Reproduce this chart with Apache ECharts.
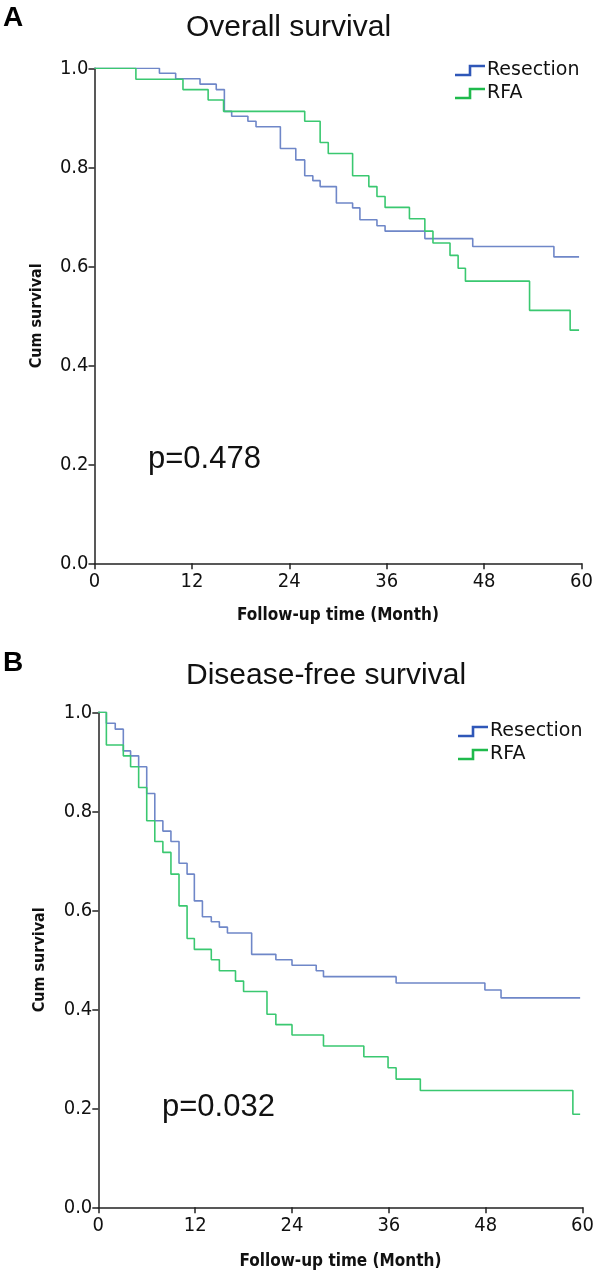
<!DOCTYPE html>
<html>
<head>
<meta charset="utf-8">
<script src="https://cdn.jsdelivr.net/npm/echarts@6/dist/echarts.min.js"></script>
<style>
html,body{margin:0;padding:0;background:#fff;}
#chart{width:597px;height:1273px;}
</style>
</head>
<body>
<div id="chart"></div>
<script>
// ---- Data (Kaplan-Meier step points: [month, cumulative survival]) ----
var xTicks = [0, 12, 24, 36, 48, 60];
var yTicks = ['0.0', '0.2', '0.4', '0.6', '0.8', '1.0'];
var seriesNames = ['Resection', 'RFA'];

// Panel A: Overall survival
var osResectionT = [0, 8.0, 10.0, 13.0, 15.0, 16.0, 16.9, 18.9, 19.9, 22.9, 24.8, 25.9, 26.9, 27.8, 29.8, 31.8, 32.7, 34.8, 35.8, 40.7, 46.6, 56.6, 59.7];
var osResectionS = [1.0, 0.990, 0.979, 0.968, 0.957, 0.913, 0.903, 0.893, 0.882, 0.838, 0.815, 0.783, 0.773, 0.761, 0.728, 0.718, 0.694, 0.682, 0.671, 0.656, 0.640, 0.619, 0.619];
var osRfaT = [0, 5.1, 10.9, 14.0, 15.9, 25.9, 27.8, 28.8, 31.8, 33.8, 34.8, 35.8, 38.8, 40.7, 41.7, 43.8, 44.8, 45.7, 53.6, 58.6, 59.7];
var osRfaS = [1.0, 0.978, 0.957, 0.936, 0.913, 0.893, 0.850, 0.828, 0.783, 0.761, 0.741, 0.719, 0.696, 0.671, 0.647, 0.622, 0.596, 0.570, 0.511, 0.471, 0.471];

// Panel B: Disease-free survival
var dfsResectionT = [0, 1.0, 2.1, 3.1, 4.0, 5.0, 6.0, 7.0, 8.0, 9.0, 10.0, 11.0, 11.9, 12.9, 14.0, 15.0, 16.0, 19.0, 22.0, 24.0, 27.0, 27.9, 36.9, 47.9, 49.9, 59.7];
var dfsResectionS = [1.0, 0.978, 0.966, 0.922, 0.912, 0.890, 0.836, 0.781, 0.760, 0.739, 0.695, 0.673, 0.619, 0.587, 0.577, 0.566, 0.554, 0.511, 0.500, 0.489, 0.478, 0.466, 0.453, 0.439, 0.423, 0.423];
var dfsRfaT = [0, 1.0, 3.1, 4.0, 5.0, 6.0, 7.0, 8.0, 9.0, 10.0, 11.0, 11.9, 14.0, 15.0, 17.0, 18.0, 20.9, 22.0, 24.0, 27.9, 32.9, 35.9, 36.9, 39.9, 58.8, 59.7];
var dfsRfaS = [1.0, 0.934, 0.912, 0.890, 0.848, 0.781, 0.739, 0.717, 0.673, 0.609, 0.543, 0.521, 0.500, 0.478, 0.457, 0.436, 0.390, 0.369, 0.348, 0.326, 0.304, 0.282, 0.259, 0.236, 0.188, 0.188];

var titles = ['Overall survival', 'Disease-free survival'];
var panelLetters = ['A', 'B'];
var pValues = ['p=0.478', 'p=0.032'];
var xName = 'Follow-up time (Month)';
var yName = 'Cum survival';

// ---- Styling ----
var lineBlue = '#6f87c8';
var lineGreen = '#3ac870';
var legBlue = '#2f57b8';
var legGreen = '#1fba4c';
var tickFont = 'DejaVu Sans Condensed';
var axisBlack = '#222';

function pairs(t, s) { return t.map(function (v, i) { return [v, s[i]]; }); }

var grids = [
  { left: 94.5, top: 68.3, width: 487, height: 495 },
  { left: 98.3, top: 712.3, width: 487.7, height: 495 }
];
var xNameGaps = [44, 46];
var yNameGaps = [49.5, 50];

function makeX(i) {
  return {
    type: 'value', gridIndex: i, min: 0, max: 60, interval: 12,
    name: xName, nameLocation: 'middle', nameGap: xNameGaps[i],
    nameTextStyle: { fontFamily: tickFont, fontWeight: 'bold', fontSize: 17, color: '#111' },
    axisLine: { show: true, onZero: false, lineStyle: { color: axisBlack, width: 1.5 } },
    axisTick: { show: true, length: 6, inside: false, lineStyle: { color: axisBlack, width: 1.5 } },
    axisLabel: { fontFamily: tickFont, fontSize: 20, color: '#111', margin: 8 },
    splitLine: { show: false }
  };
}
function makeY(i) {
  return {
    type: 'value', gridIndex: i, min: 0, max: 1, interval: 0.2,
    name: yName, nameLocation: 'middle', nameGap: yNameGaps[i], nameRotate: 90,
    nameTextStyle: { fontFamily: tickFont, fontWeight: 'bold', fontSize: 16, color: '#111' },
    axisLine: { show: true, onZero: false, lineStyle: { color: axisBlack, width: 1.5 } },
    axisTick: { show: true, length: 6, inside: false, lineStyle: { color: axisBlack, width: 1.5 } },
    axisLabel: { fontFamily: tickFont, fontSize: 20, color: '#111', margin: 6,
      formatter: function (v) { return yTicks[Math.round(v * 5)]; } },
    splitLine: { show: false }
  };
}

function makeSeries(name, gi, data, color) {
  return {
    type: 'line', name: name, xAxisIndex: gi, yAxisIndex: gi,
    step: 'end', symbol: 'none', data: data, animation: false,
    lineStyle: { color: color, width: 1.6 }, itemStyle: { color: color },
    z: name === 'RFA' ? 3 : 2
  };
}

function legendGraphic(x, y, color, label) {
  return [
    { type: 'polyline', shape: { points: [[x, y + 5], [x + 15, y + 5], [x + 15, y - 4], [x + 30, y - 4]] },
      style: { stroke: color, lineWidth: 2.6, fill: null } },
    { type: 'text', x: x + 32, y: y, style: { text: label, font: '19px "DejaVu Sans"', fill: '#111',
      verticalAlign: 'middle' } }
  ];
}

var graphics = [
  { type: 'text', left: 3, top: 4, style: { text: panelLetters[0], font: 'bold 28px "Liberation Sans"', fill: '#000' } },
  { type: 'text', left: 3, top: 649, style: { text: panelLetters[1], font: 'bold 28px "Liberation Sans"', fill: '#000' } },
  { type: 'text', x: 186, y: 28, style: { text: titles[0], font: '30px "Liberation Sans"', fill: '#111', align: 'left', verticalAlign: 'middle' } },
  { type: 'text', x: 186, y: 676, style: { text: titles[1], font: '30px "Liberation Sans"', fill: '#111', align: 'left', verticalAlign: 'middle' } },
  { type: 'text', x: 148, y: 459, style: { text: pValues[0], font: '31px "Liberation Sans"', fill: '#111', verticalAlign: 'middle' } },
  { type: 'text', x: 162, y: 1107, style: { text: pValues[1], font: '31px "Liberation Sans"', fill: '#111', verticalAlign: 'middle' } }
].concat(
  legendGraphic(455, 70, legBlue, seriesNames[0]),
  legendGraphic(455, 93, legGreen, seriesNames[1]),
  legendGraphic(458, 731, legBlue, seriesNames[0]),
  legendGraphic(458, 754, legGreen, seriesNames[1])
);

var chart = echarts.init(document.getElementById('chart'), null, { renderer: 'canvas' });
chart.setOption({
  animation: false,
  backgroundColor: '#fff',
  grid: grids,
  xAxis: [makeX(0), makeX(1)],
  yAxis: [makeY(0), makeY(1)],
  series: [
    makeSeries(seriesNames[0], 0, pairs(osResectionT, osResectionS), lineBlue),
    makeSeries(seriesNames[1], 0, pairs(osRfaT, osRfaS), lineGreen),
    makeSeries(seriesNames[0], 1, pairs(dfsResectionT, dfsResectionS), lineBlue),
    makeSeries(seriesNames[1], 1, pairs(dfsRfaT, dfsRfaS), lineGreen)
  ],
  graphic: graphics
});
</script>
</body>
</html>
